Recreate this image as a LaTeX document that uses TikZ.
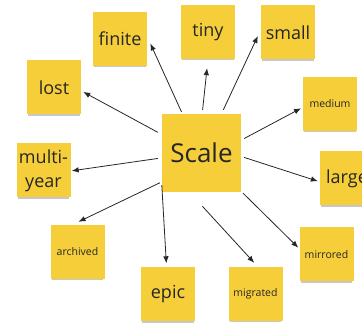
\documentclass[tikz,border=0pt]{standalone}
\usepackage{fontspec}
\setmainfont{Open Sans}
\usepackage{tikz}
\usetikzlibrary{arrows.meta}
\usetikzlibrary{shadows}
\definecolor{notecol}{RGB}{245,206,58}
\definecolor{inkcol}{RGB}{38,38,38}
\tikzstyle{graph}=[x=1pt, y=-1pt, color=inkcol]
\tikzstyle{note}=[rectangle, inner sep=0pt, fill=notecol, minimum width=54pt, minimum height=54pt, align=center, font=\fontsize{18}{24}\selectfont, drop shadow={shadow xshift=0pt, shadow yshift=-2.5pt, shadow scale=0.95, fill=black, opacity=0.22}]
\tikzstyle{big}=[note, minimum width=79pt, minimum height=78pt, font=\fontsize{26}{30}\selectfont]
\tikzstyle{tinytext}=[note, font=\fontsize{10.5}{13}\selectfont]
\tikzstyle{edge}=[line width=0.8pt, -{Latex[length=7pt, width=5.5pt]}]

\begin{document}
\begin{tikzpicture}[graph]
			\clip (0,0) rectangle (362,326);
			\draw (201.5,153) node[big] (scale) {Scale};
			\draw (120,39) node[note] (finite) {finite};
			\draw (208,32) node[note] (tiny) {tiny};
			\draw (288,32.5) node[note] (small) {small};
			\draw (54,87.5) node[note] (lost) {lost};
			\draw (330,104) node[tinytext] (medium) {medium};
			\draw (43.5,170.5) node[note] (multi) {multi-\\year};
			\draw (347,178.5) node[note] (large) {large};
			\draw (77.5,252) node[tinytext] (archived) {archived};
			\draw (326.5,254.5) node[tinytext] (mirrored) {mirrored};
			\draw (168,294.5) node[note] (epic) {epic};
			\draw (255.5,294) node[tinytext] (migrated) {migrated};
			\draw[edge, shorten <=2pt, shorten >=7.5pt] (scale.116.6) -- (finite.5.7);
			\draw[edge, shorten <=4pt, shorten >=9pt] (scale.89) -- (tiny.-90);
			\draw[edge, shorten <=4.4pt, shorten >=7pt] (scale.63.3) -- (small.174);
			\draw[edge, shorten <=3.4pt, shorten >=2pt] (scale.18.7) -- (medium.-173.7);
			\draw[edge, shorten <=3.1pt, shorten >=2pt] (scale.-5.9) -- (large.-173.4);
			\draw[edge, shorten <=2.5pt, shorten >=1.4pt] (scale.-44.6) -- (mirrored.168.7);
			\draw[edge, shorten <=19pt, shorten >=5.4pt] (scale.-107.8) -- (migrated.85.5);
			\draw[edge, shorten >=4pt] (scale.-141) -- (epic.93.5);
			\draw[edge, shorten <=2pt, shorten >=7pt] (scale.-144.7) -- (archived.101.7);
			\draw[edge, shorten <=4pt, shorten >=1pt] (scale.-173.6) -- (multi.-1.4);
			\draw[edge, shorten <=4.5pt, shorten >=2.3pt] (scale.155.7) -- (lost.-7.2);
		\end{tikzpicture}
\end{document}
